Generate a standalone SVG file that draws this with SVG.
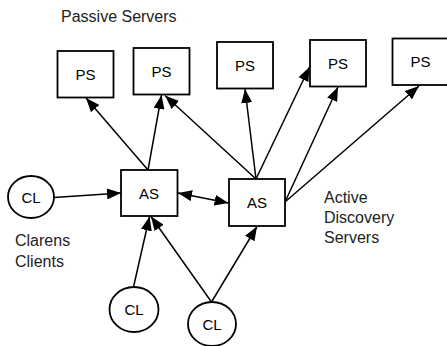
<svg xmlns="http://www.w3.org/2000/svg" width="447" height="346" viewBox="0 0 447 346">
  <style>
    .box { fill: #fff; stroke: #000; stroke-width: 1.8; }
    .node-label { font-family: "Liberation Sans", Arial, sans-serif; font-size: 15px; fill: #000; text-anchor: middle; }
    .caption { font-family: "Liberation Sans", Arial, sans-serif; font-size: 16px; fill: #222; }
    .edge { stroke: #000; stroke-width: 1.5; fill: none; marker-end: url(#head); }
    .edge2 { stroke: #000; stroke-width: 1.5; fill: none; marker-end: url(#head); marker-start: url(#head); }
  </style>
  <defs>
    <!-- solid triangular arrowhead, sized in user units -->
    <marker id="head" viewBox="0 0 14 11" refX="14" refY="5.5" markerWidth="14" markerHeight="11" markerUnits="userSpaceOnUse" orient="auto-start-reverse">
      <path d="M0,0 L14,5.5 L0,11 z" fill="#000"/>
    </marker>
  </defs>

  <rect width="447" height="346" fill="#fff"/>

  <!-- captions -->
  <text class="caption" x="61" y="22">Passive Servers</text>
  <text class="caption" x="15" y="246">Clarens</text>
  <text class="caption" x="15" y="267">Clients</text>
  <text class="caption" x="324" y="203">Active</text>
  <text class="caption" x="324" y="223">Discovery</text>
  <text class="caption" x="324" y="243">Servers</text>

  <!-- connectors -->
  <g id="connectors">
    <line class="edge" x1="148" y1="170" x2="86" y2="98"/>
    <line class="edge" x1="148" y1="170" x2="161.5" y2="95"/>
    <line class="edge" x1="256" y1="179" x2="165" y2="95.5"/>
    <line class="edge" x1="256" y1="179" x2="245" y2="89"/>
    <line class="edge" x1="256" y1="179" x2="309.5" y2="67"/>
    <line class="edge" x1="285" y1="202" x2="338" y2="87"/>
    <line class="edge" x1="285" y1="202" x2="419" y2="86"/>
    <line class="edge2" x1="178" y1="193" x2="228.5" y2="203"/>
    <line class="edge" x1="54" y1="197.5" x2="121" y2="193"/>
    <line class="edge" x1="133.5" y1="287" x2="149.5" y2="216.5"/>
    <line class="edge" x1="211.5" y1="302" x2="151" y2="216.5"/>
    <line class="edge" x1="211.5" y1="302" x2="257" y2="226.5"/>
  </g>

  <!-- passive servers -->
  <g id="ps1"><rect class="box" x="57.5" y="51" width="56" height="46.5"/><text class="node-label" x="85.5" y="80">PS</text></g>
  <g id="ps2"><rect class="box" x="133.5" y="48" width="56" height="46.5"/><text class="node-label" x="161.5" y="76.5">PS</text></g>
  <g id="ps3"><rect class="box" x="217" y="42" width="56" height="46.5"/><text class="node-label" x="245" y="70.5">PS</text></g>
  <g id="ps4"><rect class="box" x="310" y="40" width="56" height="46.5"/><text class="node-label" x="338" y="68.5">PS</text></g>
  <g id="ps5"><rect class="box" x="392.5" y="38.5" width="56" height="46.5"/><text class="node-label" x="420.5" y="66.5">PS</text></g>

  <!-- active discovery servers -->
  <g id="as1"><rect class="box" x="121" y="170" width="56.5" height="46"/><text class="node-label" x="149" y="198.5">AS</text></g>
  <g id="as2"><rect class="box" x="229" y="179" width="56" height="47"/><text class="node-label" x="257" y="208">AS</text></g>

  <!-- clients -->
  <g id="cl1"><ellipse class="box" cx="31" cy="197" rx="23" ry="21"/><text class="node-label" x="31" y="202.5">CL</text></g>
  <g id="cl2"><ellipse class="box" cx="134" cy="309.5" rx="24.5" ry="22.5"/><text class="node-label" x="134" y="315">CL</text></g>
  <g id="cl3"><ellipse class="box" cx="212" cy="324" rx="24" ry="22"/><text class="node-label" x="212" y="329.5">CL</text></g>
</svg>
